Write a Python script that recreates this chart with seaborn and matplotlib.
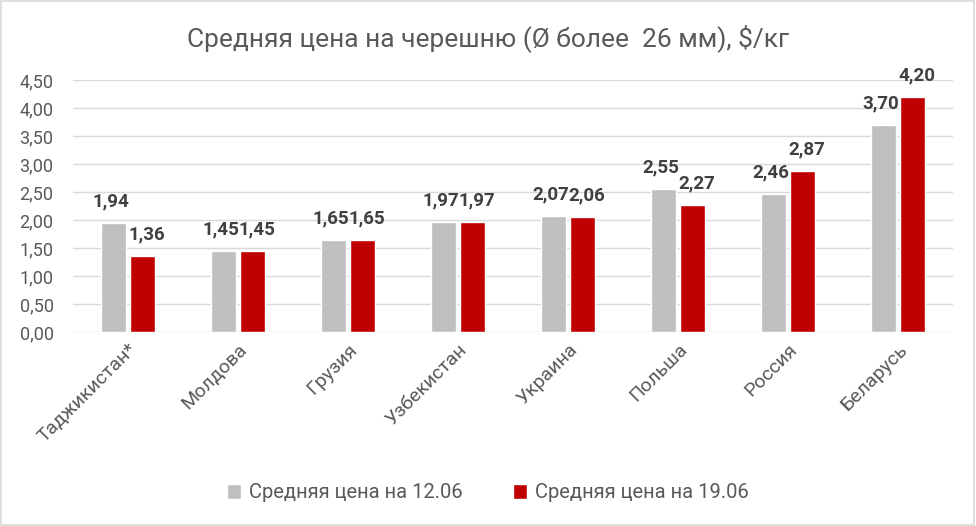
import matplotlib
matplotlib.use("Agg")
import matplotlib.pyplot as plt
import seaborn as sns
import pandas as pd
from matplotlib.patches import Rectangle

categories = ["Таджикистан*", "Молдова", "Грузия", "Узбекистан", "Украина", "Польша", "Россия", "Беларусь"]
series_names = ["Средняя цена на 12.06", "Средняя цена на 19.06"]
price_1206 = [1.94, 1.45, 1.65, 1.97, 2.07, 2.55, 2.46, 3.70]
price_1906 = [1.36, 1.45, 1.65, 1.97, 2.06, 2.27, 2.87, 4.20]
y_ticks = [0.0, 0.5, 1.0, 1.5, 2.0, 2.5, 3.0, 3.5, 4.0, 4.5]
colors = ["#BFBFBF", "#C00000"]

df = pd.DataFrame({
    "cat": categories * 2,
    "series": [series_names[0]] * len(categories) + [series_names[1]] * len(categories),
    "val": price_1206 + price_1906,
})

sns.set_theme(style="white")
plt.rcParams["font.family"] = ["Roboto", "DejaVu Sans"]

fig = plt.figure(figsize=(9.76, 5.26), dpi=100)
ax = fig.add_axes([73 / 976, 1 - 332 / 526, (953 - 73) / 976, 252 / 526])

sns.barplot(data=df, x="cat", y="val", hue="series", palette=colors,
            width=0.52, gap=0.12, ax=ax, legend=True, saturation=1)

ax.set_ylim(0, 4.5)
ax.set_xlim(-0.5, len(categories) - 0.5)
ax.set_yticks(y_ticks)
ax.set_yticklabels([f"{t:.2f}".replace(".", ",") for t in y_ticks], color="#595959", fontsize=13)
ax.yaxis.grid(True, color="#D9D9D9", linewidth=1)
ax.set_axisbelow(True)
for s in ax.spines.values():
    s.set_visible(False)
ax.tick_params(axis="y", length=0, pad=14)
ax.tick_params(axis="x", length=0, pad=6)
ax.set_xticks(range(len(categories)))
ax.set_xticklabels(categories, rotation=45, ha="right", rotation_mode="anchor",
                   color="#595959", fontsize=14)
ax.set_xlabel("")
ax.set_ylabel("")

x_shift = [-2, 3]
for i, cont in enumerate(ax.containers):
    for bar in cont:
        h = bar.get_height()
        ax.annotate(f"{h:.2f}".replace(".", ","), (bar.get_x() + bar.get_width() / 2, h),
                    xytext=(x_shift[i], 9), textcoords="offset points", ha="center", va="bottom",
                    fontsize=13.5, fontweight="bold", color="#404040")

leg = ax.legend(loc="center", bbox_to_anchor=(0.5, 1 - 493 / 526), bbox_transform=fig.transFigure,
                ncol=2, frameon=False, fontsize=14.5, handlelength=0.7, handleheight=0.7,
                columnspacing=2.5, handletextpad=0.4)
for t in leg.get_texts():
    t.set_color("#595959")

fig.text(0.5, 1 - 38 / 526, "Средняя цена на черешню (Ø более  26 мм), $/кг",
         ha="center", va="center", fontsize=19, color="#595959")

fig.patches.append(Rectangle((0.001, 0.001), 0.997, 0.997, transform=fig.transFigure,
                             fill=False, edgecolor="#D9D9D9", linewidth=1.2))

fig.savefig("out.png", dpi=100)
